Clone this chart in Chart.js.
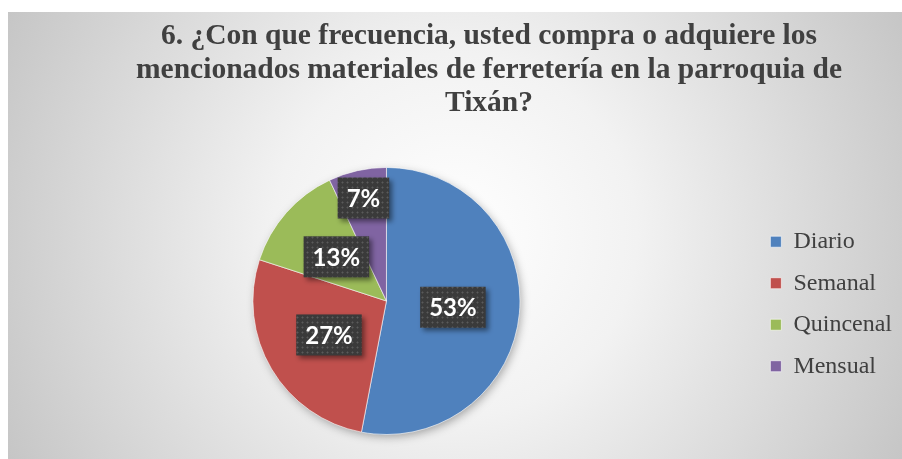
<!DOCTYPE html>
<html>
<head>
<meta charset="utf-8">
<script src="https://cdn.jsdelivr.net/npm/chart.js@4"></script>
<style>
  html, body { margin: 0; padding: 0; background: #fff; }
</style>
</head>
<body>
<canvas id="freq-chart" width="902" height="459"></canvas>
<script>
// Chart data
const categories = ['Diario', 'Semanal', 'Quincenal', 'Mensual'];
const percentages = [53, 27, 13, 7];
const sliceColors = ['#4F81BD', '#C0504D', '#9BBB59', '#8064A2'];
const titleLines = [
    '6. ¿Con que frecuencia, usted compra o adquiere los',
    'mencionados materiales de ferretería en la parroquia de',
    'Tixán?'
];

// gradient frame behind everything
const framePlugin = {
    id: 'frame',
    beforeDraw(chart) {
        const ctx = chart.ctx;
        const x0 = 8, y0 = 12, x1 = chart.width, y1 = chart.height;
        const g = ctx.createRadialGradient(455, 235, 0, 455, 235, 520);
        g.addColorStop(0, '#ffffff');
        g.addColorStop(0.35, '#f2f2f2');
        g.addColorStop(1, '#c3c3c3');
        ctx.save();
        ctx.fillStyle = g;
        ctx.fillRect(x0, y0, x1 - x0, y1 - y0);
        ctx.restore();
    },
    afterLayout(chart) {
        // title sits a bit right of the canvas middle in the original
        const t = chart.titleBlock;
        if (t) { t.left += 28; t.right += 28; }
        // legend is vertically centred beside the pie
        const lg = chart.legend;
        if (lg) {
            const h = lg.bottom - lg.top;
            const mid = (chart.chartArea.top + chart.chartArea.bottom) / 2 + 3;
            lg.top = mid - h / 2;
            lg.bottom = lg.top + h;
        }
    },
    beforeDatasetsDraw(chart) {
        // soft shadow under the pie
        const arc = chart.getDatasetMeta(0).data[0];
        if (!arc) return;
        const { x, y, outerRadius } = arc.getProps(['x', 'y', 'outerRadius'], true);
        const ctx = chart.ctx;
        ctx.save();
        ctx.shadowColor = 'rgba(0,0,0,0.35)';
        ctx.shadowBlur = 10;
        ctx.shadowOffsetX = 2;
        ctx.shadowOffsetY = 3;
        ctx.fillStyle = '#888';
        ctx.beginPath();
        ctx.arc(x, y, outerRadius - 1, 0, Math.PI * 2);
        ctx.fill();
        ctx.restore();
    }
};

// dotted dark pattern for the value boxes
function makeDotPattern(ctx) {
    const c = document.createElement('canvas');
    c.width = 5; c.height = 5;
    const p = c.getContext('2d');
    p.fillStyle = '#3a3a3a';
    p.fillRect(0, 0, 5, 5);
    p.fillStyle = '#5a5a5a';
    p.fillRect(2, 2, 1, 1);
    p.fillStyle = '#4a4a4a';
    p.fillRect(1, 2, 1, 1); p.fillRect(3, 2, 1, 1);
    p.fillRect(2, 1, 1, 1); p.fillRect(2, 3, 1, 1);
    return ctx.createPattern(c, 'repeat');
}

const valueLabelPlugin = {
    id: 'valueLabels',
    afterDatasetsDraw(chart, args, opts) {
        const ctx = chart.ctx;
        const pattern = makeDotPattern(ctx);
        const meta = chart.getDatasetMeta(0);
        meta.data.forEach((arc, i) => {
            const { x, y, startAngle, endAngle, outerRadius } =
                arc.getProps(['x', 'y', 'startAngle', 'endAngle', 'outerRadius'], true);
            const mid = (startAngle + endAngle) / 2;
            const r = outerRadius * opts.radius[i];
            const cx = x + Math.cos(mid) * r;
            const cy = y + Math.sin(mid) * r;
            const text = percentages[i] + '%';
            ctx.save();
            ctx.font = 'bold 24px Lato';
            const w = ctx.measureText(text).width + 18;
            const h = 41;
            ctx.shadowColor = 'rgba(0,0,0,0.45)';
            ctx.shadowBlur = 5;
            ctx.shadowOffsetX = 3;
            ctx.shadowOffsetY = 3;
            ctx.fillStyle = pattern;
            ctx.fillRect(cx - w / 2, cy - h / 2, w, h);
            ctx.shadowColor = 'transparent';
            ctx.fillStyle = '#ffffff';
            ctx.textAlign = 'center';
            ctx.textBaseline = 'middle';
            ctx.fillText(text, cx, cy + 1);
            ctx.restore();
        });
    }
};

const ctx = document.getElementById('freq-chart').getContext('2d');
new Chart(ctx, {
    type: 'pie',
    data: {
        labels: categories,
        datasets: [{
            data: percentages,
            backgroundColor: sliceColors,
            borderColor: 'rgba(255,255,255,0.6)',
            borderWidth: 1
        }]
    },
    options: {
        responsive: false,
        animation: false,
        layout: { padding: { left: 20, right: 0, top: 14, bottom: 24 } },
        plugins: {
            title: {
                display: true,
                text: titleLines,
                color: '#404040',
                font: { family: 'Liberation Serif', size: 29.5, weight: 'bold', lineHeight: 1.135 },
                padding: { top: 6, bottom: 46.5 }
            },
            legend: {
                position: 'right',
                labels: {
                    color: '#404040',
                    font: { family: 'Liberation Serif', size: 24 },
                    boxWidth: 11,
                    boxHeight: 11,
                    padding: 17.5
                }
            },
            tooltip: { enabled: false },
            valueLabels: { radius: [0.5, 0.5, 0.5, 0.79] }
        }
    },
    plugins: [framePlugin, valueLabelPlugin]
});
</script>
</body>
</html>
